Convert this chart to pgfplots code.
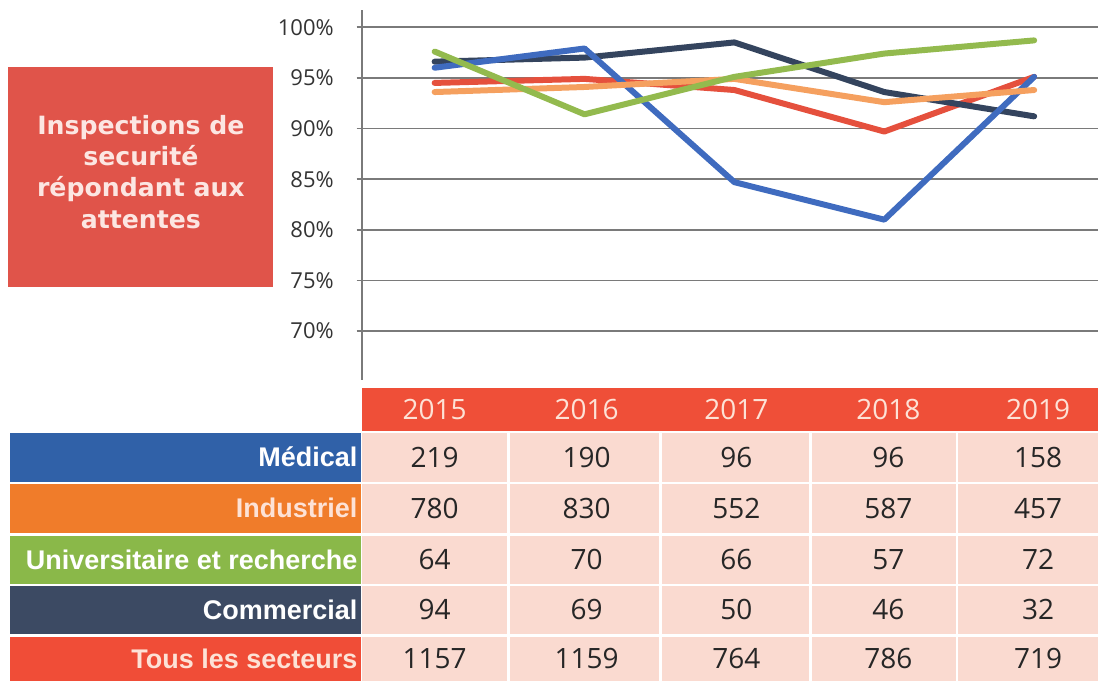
\documentclass[border=0pt]{standalone}
\usepackage{fontspec}
\setmainfont{Open Sans}
\newfontfamily\boxfont{DejaVu Sans}
\newfontfamily\labfont{Liberation Sans}
\usepackage{pgfplots}
\pgfplotsset{compat=1.18}

\definecolor{boxRed}{HTML}{E0544A}
\definecolor{boxText}{HTML}{FCE6E2}
\definecolor{headRed}{HTML}{EF4F38}
\definecolor{headText}{HTML}{FDE2D6}
\definecolor{cellPink}{HTML}{FADAD0}
\definecolor{numText}{HTML}{262626}
\definecolor{tickText}{HTML}{333333}
\definecolor{gridGrey}{HTML}{7A7A7A}
\definecolor{bgMed}{HTML}{3061A8}
\definecolor{bgInd}{HTML}{F07C2A}
\definecolor{bgUni}{HTML}{8AB849}
\definecolor{bgCom}{HTML}{3C4A63}
\definecolor{bgTous}{HTML}{F04D37}
\definecolor{lnMed}{HTML}{3F6BBF}
\definecolor{lnInd}{HTML}{F5A05F}
\definecolor{lnUni}{HTML}{93BA4E}
\definecolor{lnCom}{HTML}{34445E}
\definecolor{lnTous}{HTML}{E5503D}

\begin{document}
\begin{tikzpicture}
% pixel grid of the reference: 1 px = 0.5pt, y downwards
\begin{scope}[x=0.5pt,y=-0.5pt]
\path[use as bounding box] (0,0) rectangle (1099,682);

% title box
\fill[boxRed] (8,67) rectangle (273,287);
\node[text=boxText,align=center,inner sep=0pt,
	font=\boxfont\bfseries\fontsize{12.6pt}{15.75pt}\selectfont]
	at (141,172) {Inspections de\\securité\\répondant aux\\attentes};

% table header
\fill[headRed] (362,388) rectangle (1099,431);
\foreach \yr/\xx in {2015/435,2016/587,2017/737,2018/889,2019/1039}
	\node[text=headText,font=\fontsize{14pt}{16pt}\selectfont] at (\xx,410) {\yr};

% table body
\foreach \top/\bot/\bg/\txt/\lab/\a/\b/\c/\d/\e in {
	433/482/bgMed/white/Médical/219/190/96/96/158,
	484/533/bgInd/headText/Industriel/780/830/552/587/457,
	536/584/bgUni/white/Universitaire et recherche/64/70/66/57/72,
	586/634/bgCom/white/Commercial/94/69/50/46/32,
	637/682/bgTous/headText/Tous les secteurs/1157/1159/764/786/719}{
	\fill[\bg] (10,\top) rectangle (361,\bot);
	\fill[cellPink] (362,\top) rectangle (1099,\bot);
	\node[anchor=east,inner sep=0pt,text=\txt,
		font=\labfont\bfseries\fontsize{13.5pt}{15pt}\selectfont]
		at (358,{(\top+\bot)/2}) {\lab};
	\foreach \v/\xx in {\a/435,\b/587,\c/737,\d/889,\e/1039}
		\node[text=numText,font=\fontsize{14pt}{16pt}\selectfont]
			at (\xx,{(\top+\bot)/2}) {\v};
}
\foreach \xx in {509,661,811,958}
	\draw[white,line width=1.2pt] (\xx,433) -- (\xx,682);
\end{scope}

\begin{axis}[
	at={(181pt,-190pt)},anchor=south west,
	scale only axis,width=368.5pt,height=185pt,
	xmin=-0.4867,xmax=4.4267,
	ymin=65.2,ymax=101.7,
	axis x line=none,
	axis y line=left,
	axis line style={-,draw=gridGrey,line width=0.9pt},
	xtick=\empty,
	ytick={70,75,80,85,90,95,100},
	yticklabel={\pgfmathprintnumber{\tick}\%},
	/pgf/number format/assume math mode=true,
	yticklabel style={font=\fontsize{11pt}{12pt}\selectfont,text=tickText,xshift=-8pt},
	tick align=outside,
	major tick length=2.5pt,
	ytick style={draw=gridGrey,line width=0.9pt},
	ymajorgrids,
	major grid style={draw=gridGrey,line width=0.9pt},
	every axis plot/.append style={line width=3pt,line join=round,line cap=round,mark=none},
]
\addplot[lnTous] coordinates {(0,94.5) (1,94.9) (2,93.8) (3,89.7) (4,95.1)};
\addplot[lnCom] coordinates {(0,96.6) (1,97.0) (2,98.5) (3,93.6) (4,91.2)};
\addplot[lnMed] coordinates {(0,96.0) (1,97.9) (2,84.7) (3,81.0) (4,95.1)};
\addplot[lnInd] coordinates {(0,93.6) (1,94.1) (2,94.9) (3,92.6) (4,93.8)};
\addplot[lnUni] coordinates {(0,97.6) (1,91.4) (2,95.1) (3,97.4) (4,98.7)};
\end{axis}
\end{tikzpicture}
\end{document}
